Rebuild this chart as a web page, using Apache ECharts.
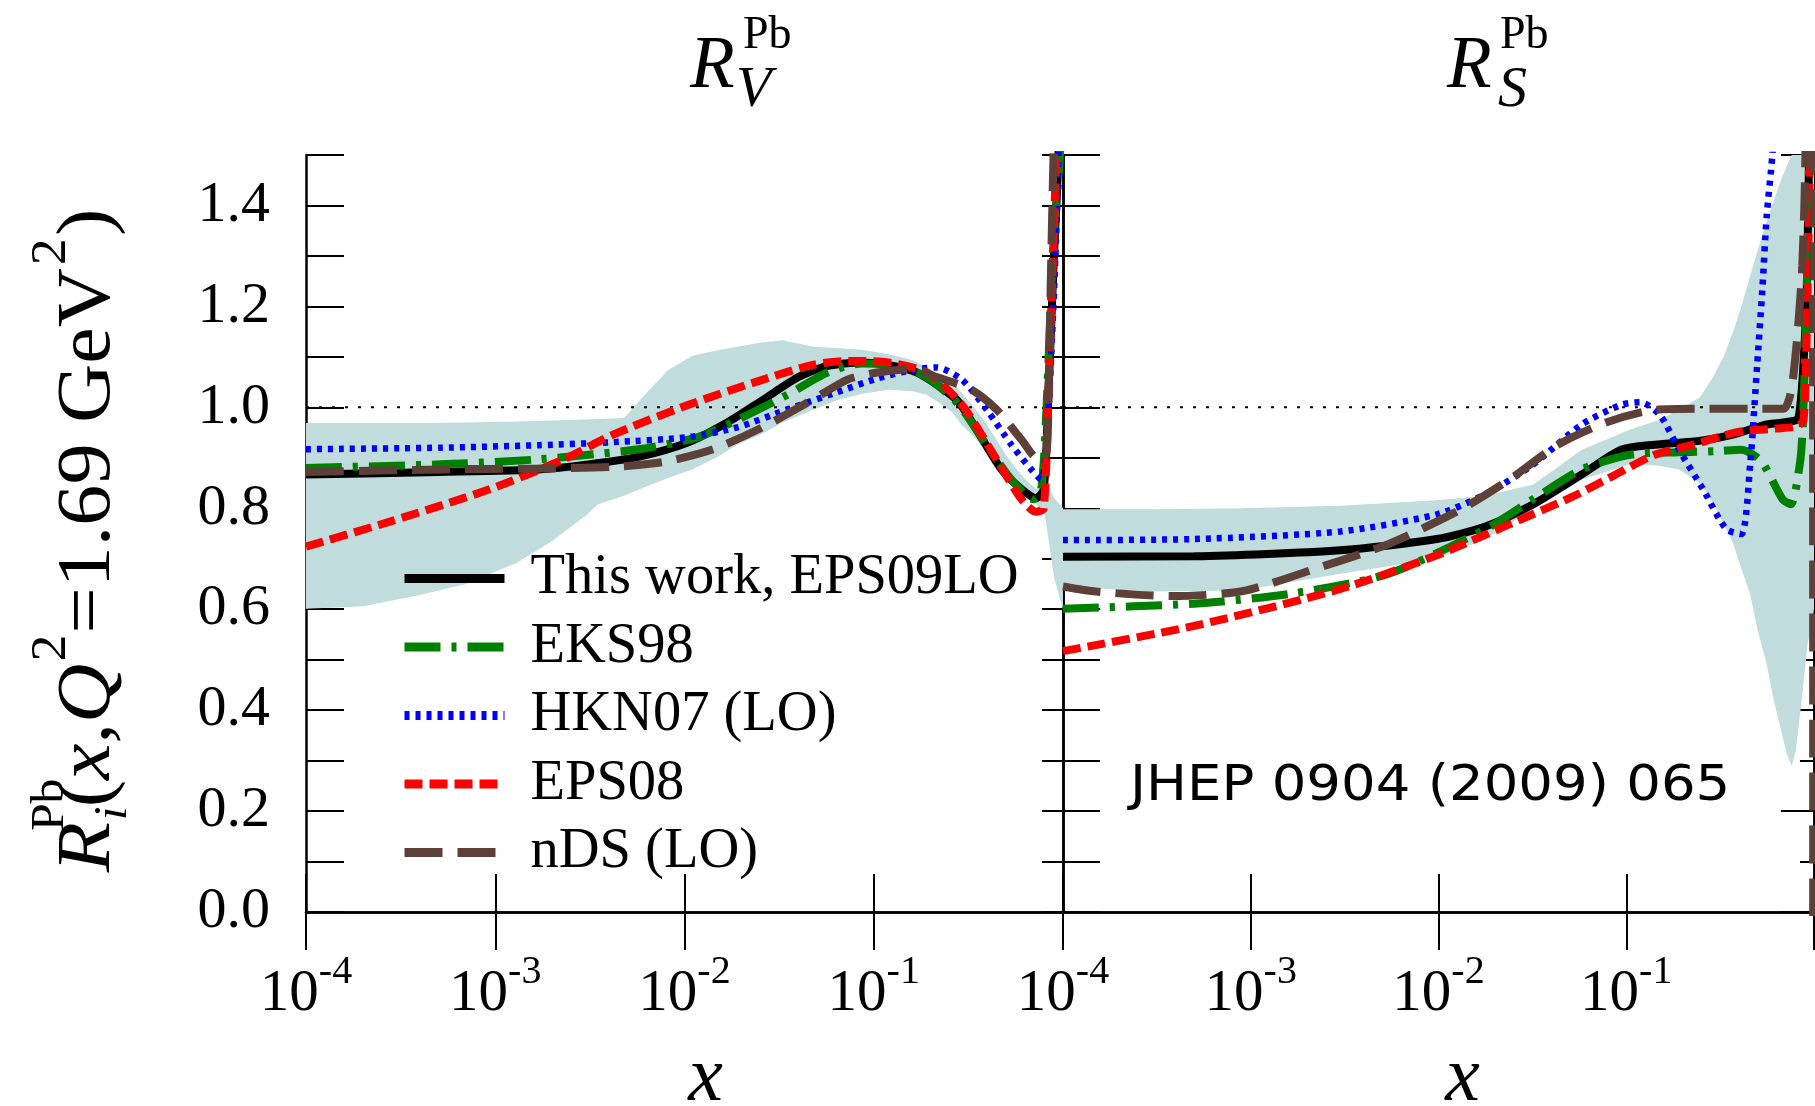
<!DOCTYPE html>
<html>
<head>
<meta charset="utf-8">
<script src="https://cdn.jsdelivr.net/npm/echarts@6/dist/echarts.min.js"></script>
<style>html,body{margin:0;padding:0;background:#fff}#c{width:1815px;height:1106px}</style>
</head>
<body>
<div id="c"></div>
<script>
// ---------------- data: left panel, R_V ----------------
const vBandX  = [1e-4, 2e-4, 4e-4, 7e-4, 1.3e-3, 2e-3, 3e-3, 3.5e-3, 4.8e-3, 6e-3, 8.2e-3, 0.011, 0.015, 0.019, 0.025, 0.033, 0.048, 0.065, 0.087, 0.12, 0.16, 0.19, 0.22, 0.26, 0.29, 0.33, 0.39, 0.445, 0.5, 0.57, 0.64, 0.72, 0.8, 0.9, 1];
const vBandHi = [0.969, 0.969, 0.969, 0.970, 0.972, 0.974, 0.976, 0.977, 0.979, 1.02, 1.074, 1.102, 1.113, 1.12, 1.128, 1.133, 1.12, 1.117, 1.114, 1.105, 1.094, 1.08, 1.064, 1.048, 1.03, 1.005, 0.97, 0.936, 0.905, 0.877, 0.855, 0.838, 0.86, 0.82, 0.80];
const vBandLo = [0.601, 0.606, 0.628, 0.650, 0.692, 0.735, 0.785, 0.808, 0.825, 0.840, 0.860, 0.877, 0.902, 0.926, 0.945, 0.970, 0.995, 1.015, 1.027, 1.035, 1.032, 1.025, 1.01, 0.99, 0.966, 0.945, 0.915, 0.887, 0.866, 0.848, 0.828, 0.808, 0.79, 0.66, 0.60];

const vBlackX = [1e-4, 5.1e-4, 1.7e-3, 3.1e-3, 5.7e-3, 0.0105, 0.017, 0.026, 0.04, 0.057, 0.087, 0.118, 0.169, 0.274, 0.349, 0.473, 0.603, 0.721, 0.791, 0.839, 0.891, 0.946, 0.98];
const vBlackY = [0.867, 0.872, 0.877, 0.887, 0.902, 0.931, 0.971, 1.015, 1.06, 1.082, 1.089, 1.084, 1.069, 1.015, 0.956, 0.877, 0.838, 0.82, 0.838, 1.035, 1.28, 1.5, 1.8];
const vGreenX = [1e-4, 5.1e-4, 1.7e-3, 5.7e-3, 0.0118, 0.0192, 0.035, 0.057, 0.087, 0.118, 0.18, 0.274, 0.394, 0.533, 0.7, 0.767, 0.815, 0.891, 0.964, 0.99];
const vGreenY = [0.88, 0.887, 0.897, 0.917, 0.941, 0.976, 1.025, 1.069, 1.087, 1.084, 1.065, 1.01, 0.926, 0.857, 0.818, 0.838, 0.986, 1.33, 1.5, 1.7];
const vBlueX  = [1e-4, 5.1e-4, 1.7e-3, 4.2e-3, 0.0105, 0.0192, 0.035, 0.064, 0.104, 0.159, 0.215, 0.292, 0.394, 0.533, 0.679, 0.767, 0.815, 0.865, 0.918, 0.96];
const vBlueY  = [0.917, 0.92, 0.925, 0.931, 0.941, 0.961, 0.996, 1.03, 1.057, 1.074, 1.079, 1.055, 0.996, 0.926, 0.877, 0.857, 0.92, 1.10, 1.33, 1.6];
const vRedX   = [1e-4, 2.8e-4, 9.4e-4, 2.3e-3, 4.2e-3, 0.0105, 0.026, 0.0475, 0.0726, 0.118, 0.191, 0.292, 0.445, 0.603, 0.721, 0.791, 0.839, 0.891, 0.94];
const vRedY   = [0.724, 0.774, 0.838, 0.897, 0.946, 1.005, 1.055, 1.084, 1.092, 1.089, 1.069, 1.005, 0.897, 0.818, 0.793, 0.80, 1.035, 1.33, 1.6];
const vBrownX = [1e-4, 5.1e-4, 1.7e-3, 4.2e-3, 7.8e-3, 0.0142, 0.026, 0.0475, 0.0726, 0.104, 0.159, 0.215, 0.329, 0.445, 0.603, 0.743, 0.815, 0.839, 0.865, 0.891, 0.92];
const vBrownY = [0.872, 0.877, 0.879, 0.882, 0.892, 0.917, 0.961, 1.015, 1.055, 1.069, 1.076, 1.06, 1.035, 0.996, 0.936, 0.897, 0.905, 1.035, 1.28, 1.5, 1.7];

// ---------------- data: right panel, R_S ----------------
const sBandX  = [1e-4, 3e-4, 9e-4, 3e-3, 0.0098, 0.0178, 0.032, 0.058, 0.105, 0.15, 0.191, 0.247, 0.29, 0.33, 0.371, 0.41, 0.457, 0.5, 0.561, 0.61, 0.667, 0.72, 0.76, 0.8, 0.866, 0.924, 1];
const sBandHi = [0.798, 0.798, 0.80, 0.805, 0.816, 0.825, 0.847, 0.916, 0.956, 0.975, 0.995, 1.02, 1.06, 1.10, 1.15, 1.20, 1.26, 1.31, 1.37, 1.41, 1.45, 1.48, 1.5, 1.5, 1.5, 1.5, 1.5];
const sBandLo = [0.645, 0.635, 0.637, 0.67, 0.70, 0.739, 0.798, 0.857, 0.887, 0.884, 0.877, 0.85, 0.81, 0.77, 0.73, 0.68, 0.63, 0.56, 0.49, 0.42, 0.36, 0.31, 0.29, 0.32, 0.43, 0.53, 0.60];

const sBlackX = [1e-4, 5e-4, 3e-3, 9.8e-3, 0.0178, 0.032, 0.058, 0.094, 0.142, 0.25, 0.37, 0.56, 0.81, 0.84, 0.875, 0.915, 0.95];
const sBlackY = [0.704, 0.705, 0.717, 0.739, 0.764, 0.808, 0.867, 0.916, 0.926, 0.934, 0.946, 0.966, 0.975, 0.995, 1.074, 1.23, 1.6];
const sGreenX = [1e-4, 5e-4, 1.66e-3, 5.4e-3, 0.0178, 0.032, 0.058, 0.105, 0.19, 0.3, 0.41, 0.48, 0.54, 0.68, 0.753, 0.84, 0.87, 0.915, 0.95];
const sGreenY = [0.601, 0.611, 0.631, 0.67, 0.759, 0.818, 0.877, 0.906, 0.911, 0.913, 0.916, 0.905, 0.887, 0.818, 0.808, 0.887, 0.956, 1.23, 1.6];
const sBlueX  = [1e-4, 5e-4, 3e-3, 9.8e-3, 0.0178, 0.032, 0.058, 0.094, 0.119, 0.151, 0.191, 0.257, 0.34, 0.41, 0.457, 0.498, 0.53, 0.56, 0.6, 0.63];
const sBlueY  = [0.737, 0.739, 0.754, 0.788, 0.828, 0.887, 0.966, 1.005, 1.01, 0.985, 0.916, 0.837, 0.759, 0.749, 0.887, 1.084, 1.23, 1.38, 1.5, 1.65];
const sRedX   = [1e-4, 5e-4, 3e-3, 9.8e-3, 0.0225, 0.0518, 0.088, 0.142, 0.228, 0.389, 0.625, 0.8, 0.88, 0.92, 0.96];
const sRedY   = [0.517, 0.567, 0.64, 0.707, 0.764, 0.823, 0.867, 0.906, 0.926, 0.951, 0.958, 0.962, 0.975, 1.2, 1.6];
const sBrownX = [1e-4, 1.5e-4, 3.8e-4, 9.1e-4, 2.2e-3, 5.4e-3, 0.0132, 0.0239, 0.0434, 0.078, 0.142, 0.257, 0.5, 0.687, 0.753, 0.81, 0.866, 0.9, 0.94, 0.985, 0.99];
const sBrownY = [0.645, 0.635, 0.626, 0.636, 0.68, 0.729, 0.798, 0.857, 0.926, 0.97, 0.995, 0.997, 0.997, 0.997, 1.03, 1.13, 1.28, 1.5, 2.5, 2.5, -0.5];

const unityX = [1e-4, 1];
const unityY = [1, 1];

const seriesNames = ['This work, EPS09LO', 'EKS98', 'HKN07 (LO)', 'EPS08', 'nDS (LO)'];
const yTickValues = [0.0, 0.2, 0.4, 0.6, 0.8, 1.0, 1.2, 1.4];

// ---------------- styles ----------------
const SERIF = '"Liberation Serif", "Times New Roman", serif';
const BAND = '#c0dcdc';
const STY = {
  'This work, EPS09LO': {color: '#000000', width: 8,   type: 'solid'},
  'EKS98':              {color: '#008000', width: 8,   type: [36, 11, 5, 11]},
  'HKN07 (LO)':         {color: '#0000ff', width: 6.5, type: [5, 6]},
  'EPS08':              {color: '#ff0000', width: 8,   type: [18, 7]},
  'nDS (LO)':           {color: '#5d4037', width: 8,   type: [38, 15]}
};

const pts = (xs, ys) => xs.map((x, i) => [x, ys[i]]);

function lineSeries(name, xs, ys, idx) {
  const s = STY[name];
  return {
    type: 'line', name: name, xAxisIndex: idx, yAxisIndex: idx,
    data: pts(xs, ys), symbol: 'none', smooth: 0.25, clip: true,
    color: s.color,
    lineStyle: {color: s.color, width: s.width, type: s.type, cap: 'butt'},
    emphasis: {disabled: true}, silent: true, animation: false
  };
}

function bandSeries(xs, lo, hi, idx) {
  return {
    type: 'custom', name: 'band' + idx, xAxisIndex: idx, yAxisIndex: idx,
    data: [[xs[0], lo[0]]], silent: true, animation: false,
    renderItem: function (params, api) {
      const top = xs.map((x, i) => api.coord([x, hi[i]]));
      const bot = xs.map((x, i) => api.coord([x, lo[i]])).reverse();
      return {type: 'polygon', shape: {points: top.concat(bot)}, style: {fill: BAND}};
    }
  };
}

function unitySeries(idx) {
  return {
    type: 'line', name: 'unity' + idx, xAxisIndex: idx, yAxisIndex: idx,
    data: pts(unityX, unityY), symbol: 'none', silent: true, animation: false,
    lineStyle: {color: '#000', width: 2, type: [3, 10]}
  };
}

// ---------------- axes ----------------
const G = [
  {left: 306, top: 155, width: 757, height: 757, containLabel: false, outerBoundsMode: 'none'},
  {left: 1063, top: 155, width: 751, height: 757, containLabel: false, outerBoundsMode: 'none'}
];

function xBottom(gi, padLeft) {
  return {
    type: 'log', logBase: 10, min: 1e-4, max: 1, gridIndex: gi, position: 'bottom',
    splitLine: {show: false}, minorTick: {show: false},
    axisLine: {lineStyle: {color: '#000', width: 2.5}},
    axisTick: {inside: true, length: 38, lineStyle: {color: '#000', width: 2}},
    axisLabel: {
      margin: 40, color: '#000',
      formatter: function (v) {
        const e = Math.round(Math.log10(v));
        return e >= 0 ? '' : '{b|10}{s|' + e + '}';
      },
      rich: {
        b: {fontFamily: SERIF, fontSize: 59, lineHeight: 84, color: '#000'},
        s: {fontFamily: SERIF, fontSize: 40, lineHeight: 40, verticalAlign: 'top', color: '#000'}
      }
    },
    name: 'x', nameLocation: 'middle', nameGap: 128,
    nameTextStyle: {fontFamily: SERIF, fontStyle: 'italic', fontSize: 78, color: '#000', padding: [0, 0, 0, padLeft]}
  };
}
function xTop(gi) {
  return {
    type: 'log', logBase: 10, min: 1e-4, max: 1, gridIndex: gi, position: 'top',
    splitLine: {show: false}, axisLabel: {show: false},
    axisLine: {lineStyle: {color: '#000', width: 2.5}},
    axisTick: {inside: true, length: 38, lineStyle: {color: '#000', width: 2}}
  };
}
function yAx(gi, pos, interval, len, labels) {
  return {
    type: 'value', min: 0, max: 1.5, interval: interval, gridIndex: gi, position: pos,
    splitLine: {show: false},
    axisLine: {show: true, lineStyle: {color: '#000', width: 2.5}},
    axisTick: {show: true, inside: true, length: len, lineStyle: {color: '#000', width: 2}},
    axisLabel: labels ? {
      margin: 36, color: '#000', fontFamily: SERIF, fontSize: 58,
      formatter: function (v) {
        const k = Math.round(v * 10) / 10;
        return yTickValues.some(t => Math.abs(t - k) < 1e-6) ? k.toFixed(1) : '';
      }
    } : {show: false}
  };
}

// ---------------- graphics: titles and y-axis label ----------------
const mid = (baseline, fs) => baseline - 0.3375 * fs;
function txt(x, y, text, font, align) {
  return {type: 'text', x: x, y: y, silent: true,
    style: {text: text, font: font, fill: '#000', align: align || 'left', verticalAlign: 'middle'}};
}

const graphics = [
  // left title R_V^Pb
  txt(690, mid(92, 73), 'R', 'italic 73px ' + SERIF),
  txt(743, mid(51, 46), 'Pb', '46px ' + SERIF),
  txt(736, mid(110, 58), 'V', 'italic 58px ' + SERIF),
  // right title R_S^Pb
  txt(1447, mid(92, 73), 'R', 'italic 73px ' + SERIF),
  txt(1500, mid(51, 46), 'Pb', '46px ' + SERIF),
  txt(1498, mid(110, 58), 'S', 'italic 58px ' + SERIF),
  // rotated y-axis label
  {
    type: 'group', x: 115, y: 870, rotation: Math.PI / 2, scaleX: 1.08, silent: true,
    children: [
      txt(-2, mid(0, 76), 'R', 'italic 76px ' + SERIF),
      txt(36, mid(-49, 46), 'Pb', '46px ' + SERIF),
      txt(46, mid(14, 46), 'i', 'italic 46px ' + SERIF),
      {type: 'text', x: 58, y: mid(0, 76), silent: true, style: {
        text: '{r|(}{it|x}{r|,}{it|Q}', align: 'left', verticalAlign: 'middle', fill: '#000',
        rich: {
          r: {fontFamily: SERIF, fontSize: 76, fill: '#000'},
          it: {fontFamily: SERIF, fontSize: 76, fontStyle: 'italic', fill: '#000'}
        }}},
      txt(193, mid(-46, 50), '2', '50px ' + SERIF),
      txt(219, mid(0, 76), '=1.69 GeV', '76px ' + SERIF),
      txt(560, mid(-46, 50), '2', '50px ' + SERIF),
      txt(587, mid(0, 76), ')', '76px ' + SERIF)
    ]
  },
  // journal reference
  {
    type: 'group', x: 1130, y: 804 - 0.346 * 50, scaleX: 1.09, silent: true,
    children: [
      {type: 'text', x: 0, y: 0, style: {text: 'JHEP 0904 (2009) 065', font: '50px "DejaVu Sans"', fill: '#000', align: 'left', verticalAlign: 'middle'}}
    ]
  }
];

// ---------------- option ----------------
const series = [
  bandSeries(vBandX, vBandLo, vBandHi, 0),
  bandSeries(sBandX, sBandLo, sBandHi, 1),
  unitySeries(0),
  unitySeries(1),
  lineSeries(seriesNames[0], vBlackX, vBlackY, 0),
  lineSeries(seriesNames[1], vGreenX, vGreenY, 0),
  lineSeries(seriesNames[2], vBlueX, vBlueY, 0),
  lineSeries(seriesNames[3], vRedX, vRedY, 0),
  lineSeries(seriesNames[4], vBrownX, vBrownY, 0),
  lineSeries(seriesNames[0], sBlackX, sBlackY, 1),
  lineSeries(seriesNames[1], sGreenX, sGreenY, 1),
  lineSeries(seriesNames[2], sBlueX, sBlueY, 1),
  lineSeries(seriesNames[3], sRedX, sRedY, 1),
  lineSeries(seriesNames[4], sBrownX, sBrownY, 1)
];

const option = {
  animation: false,
  backgroundColor: '#ffffff',
  grid: G,
  xAxis: [xBottom(0, 42), xTop(0), xBottom(1, 48), xTop(1)],
  yAxis: [
    yAx(0, 'left', 0.1, 38, true),
    yAx(0, 'right', 0.1, 21, false),
    yAx(1, 'left', 0.1, 37, false),
    yAx(1, 'right', 0.2, 33, false),
    yAx(1, 'right', 0.1, 14, false)
  ],
  legend: {
    data: seriesNames, orient: 'vertical', left: 400, top: 550, padding: 0,
    itemWidth: 100, itemHeight: 12, itemGap: 11.5, selectedMode: false,
    itemStyle: {color: 'rgba(0,0,0,0)', borderWidth: 0},
    lineStyle: {width: 9},
    textStyle: {fontFamily: SERIF, fontSize: 56.5, lineHeight: 56, color: '#000', padding: [0, 0, 0, 21]}
  },
  graphic: graphics,
  series: series
};

// series on grid 1 use xAxis 2 / yAxis 2
series.forEach(s => { if (s.xAxisIndex === 1) { s.xAxisIndex = 2; s.yAxisIndex = 2; } });

const chart = echarts.init(document.getElementById('c'), null, {renderer: 'canvas'});
chart.setOption(option);
</script>
</body>
</html>
